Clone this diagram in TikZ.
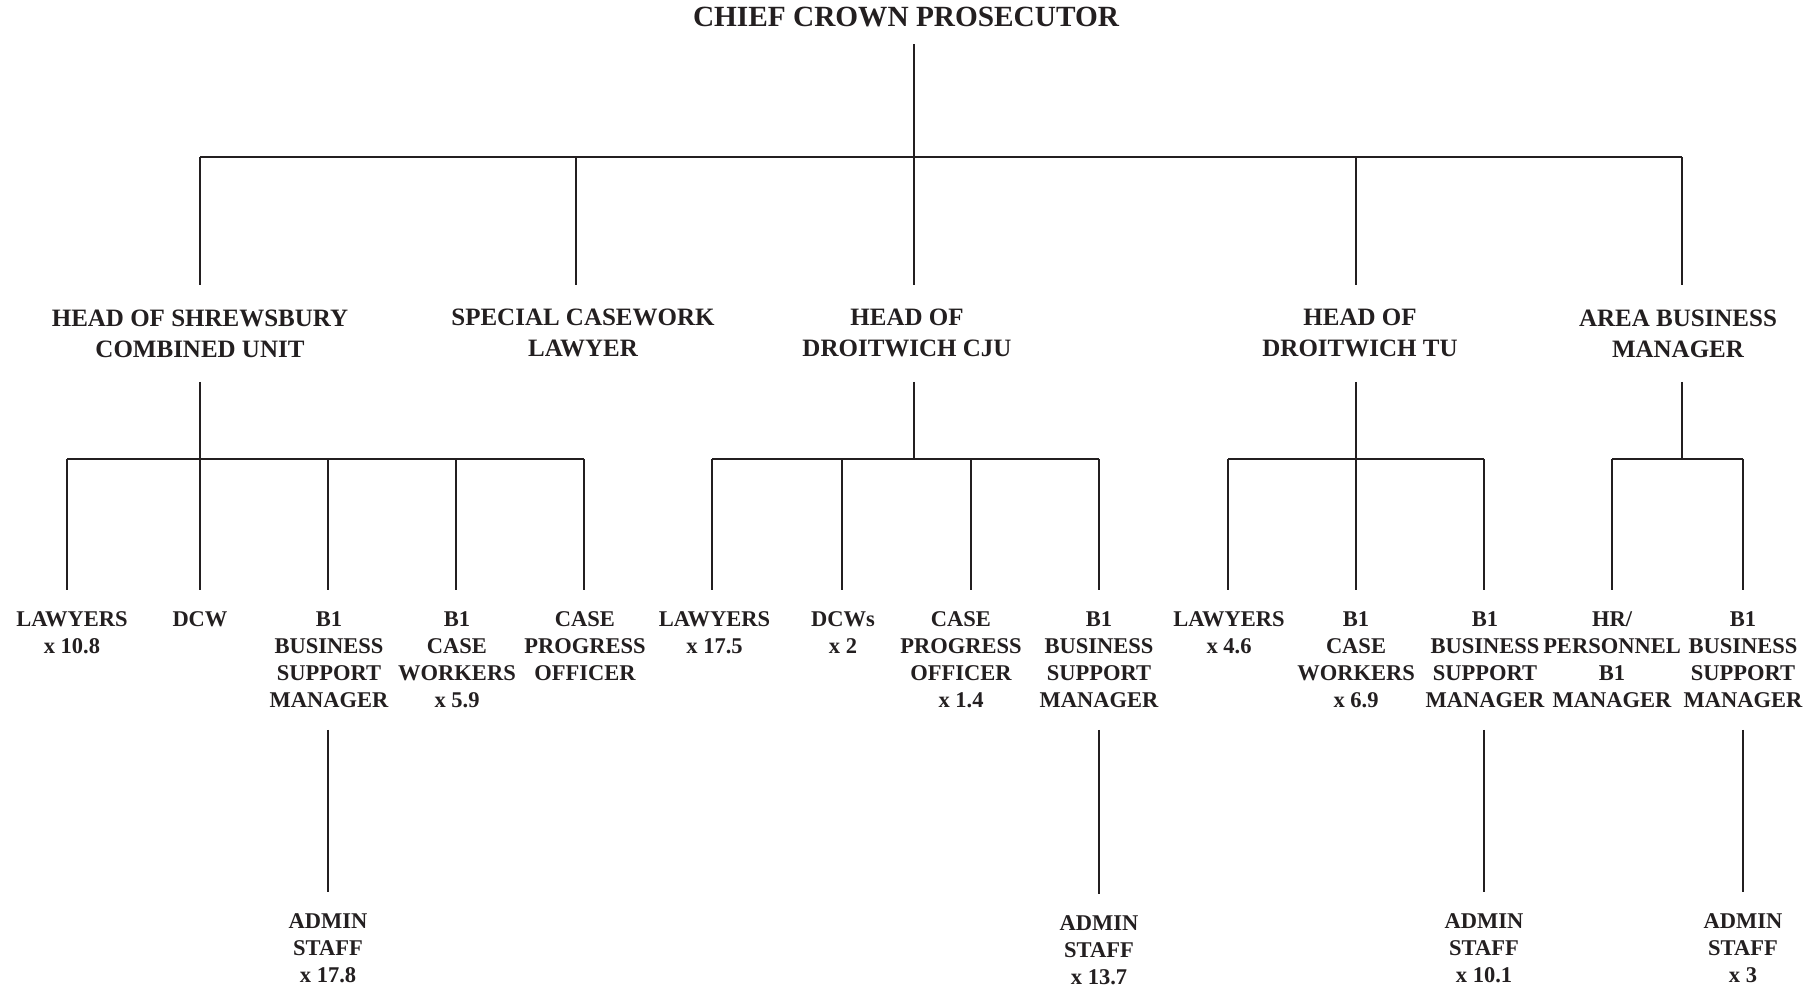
\documentclass[tikz,border=0pt]{standalone}
\usepackage{fontspec}
\setmainfont{Liberation Serif}
\definecolor{ink}{HTML}{231F20}
\begin{document}
\begin{tikzpicture}[x=0.5pt,y=-0.5pt,
  every node/.style={text=ink},
  conn/.style={draw=ink, line width=1pt},
  bar/.style={draw=ink, line width=1.15pt},
  ttop/.style={font=\fontsize{14.65pt}{17pt}\selectfont\bfseries, minimum height=27pt, inner sep=0pt},
  tmid/.style={font=\fontsize{12.5pt}{15.5pt}\selectfont\bfseries, align=center, anchor=north, minimum height=48pt, inner xsep=0pt, inner ysep=0pt},
  tlow/.style={font=\fontsize{11.25pt}{13.5pt}\selectfont\bfseries, align=center, anchor=north, inner xsep=0pt, inner ysep=10.75pt},
]
\useasboundingbox (0,0) rectangle (1816,988);

% level 0
\node[ttop] (ccp) at (906,17) {CHIEF CROWN PROSECUTOR};

% level 1 junctions
\coordinate (r0) at (200,157);
\coordinate (r1) at (575.6,157);
\coordinate (r2) at (914,157);
\coordinate (r3) at (1356,157);
\coordinate (r4) at (1682,157);
\draw[conn] (ccp.south -| r2) -- (r2);
\draw[bar] (r0) -- (r4);

% level 1 nodes
\node[tmid] (h1) at (200,285) {HEAD OF SHREWSBURY\\COMBINED UNIT};
\node[tmid] (sp) at (583,285) {SPECIAL CASEWORK\\LAWYER};
\node[tmid] (h2) at (907,285) {HEAD OF\\DROITWICH CJU};
\node[tmid] (h3) at (1360,285) {HEAD OF\\DROITWICH TU};
\node[tmid] (abm) at (1678,285) {AREA BUSINESS\\MANAGER};

\draw[conn] (r0) -- (r0 |- h1.north);
\draw[conn] (r1) -- (r1 |- sp.north);
\draw[conn] (r2) -- (r2 |- h2.north);
\draw[conn] (r3) -- (r3 |- h3.north);
\draw[conn] (r4) -- (r4 |- abm.north);

% level 2 junctions
\coordinate (g1a) at (67,459);
\coordinate (g1b) at (200,459);
\coordinate (g1c) at (328,459);
\coordinate (g1d) at (456,459);
\coordinate (g1e) at (584,459);
\coordinate (g2a) at (712,459);
\coordinate (g2b) at (842,459);
\coordinate (g2m) at (914,459);
\coordinate (g2c) at (971,459);
\coordinate (g2d) at (1099,459);
\coordinate (g3a) at (1228,459);
\coordinate (g3b) at (1356,459);
\coordinate (g3c) at (1484,459);
\coordinate (g4a) at (1612,459);
\coordinate (g4m) at (1682,459);
\coordinate (g4b) at (1743,459);

\draw[conn] (h1.south -| g1b) -- (g1b);
\draw[conn] (h2.south -| g2m) -- (g2m);
\draw[conn] (h3.south -| g3b) -- (g3b);
\draw[conn] (abm.south -| g4m) -- (g4m);

\draw[bar] (g1a) -- (g1e);
\draw[bar] (g2a) -- (g2d);
\draw[bar] (g3a) -- (g3c);
\draw[bar] (g4a) -- (g4b);

% level 2 nodes
\node[tlow] (a1) at (72,590) {LAWYERS\\x 10.8};
\node[tlow] (a2) at (200,590) {DCW};
\node[tlow] (a3) at (329,590) {B1\\BUSINESS\\SUPPORT\\MANAGER};
\node[tlow] (a4) at (457,590) {B1\\CASE\\WORKERS\\x 5.9};
\node[tlow] (a5) at (585,590) {CASE\\PROGRESS\\OFFICER};
\node[tlow] (b1) at (714.6,590) {LAWYERS\\x 17.5};
\node[tlow] (b2) at (843,590) {DCWs\\x 2};
\node[tlow] (b3) at (961,590) {CASE\\PROGRESS\\OFFICER\\x 1.4};
\node[tlow] (b4) at (1099,590) {B1\\BUSINESS\\SUPPORT\\MANAGER};
\node[tlow] (c1) at (1229,590) {LAWYERS\\x 4.6};
\node[tlow] (c2) at (1356,590) {B1\\CASE\\WORKERS\\x 6.9};
\node[tlow] (c3) at (1485,590) {B1\\BUSINESS\\SUPPORT\\MANAGER};
\node[tlow] (d1) at (1612,590) {HR/\\PERSONNEL\\B1\\MANAGER};
\node[tlow] (d2) at (1743,590) {B1\\BUSINESS\\SUPPORT\\MANAGER};

\draw[conn] (g1a) -- (g1a |- a1.north);
\draw[conn] (g1b) -- (g1b |- a2.north);
\draw[conn] (g1c) -- (g1c |- a3.north);
\draw[conn] (g1d) -- (g1d |- a4.north);
\draw[conn] (g1e) -- (g1e |- a5.north);
\draw[conn] (g2a) -- (g2a |- b1.north);
\draw[conn] (g2b) -- (g2b |- b2.north);
\draw[conn] (g2c) -- (g2c |- b3.north);
\draw[conn] (g2d) -- (g2d |- b4.north);
\draw[conn] (g3a) -- (g3a |- c1.north);
\draw[conn] (g3b) -- (g3b |- c2.north);
\draw[conn] (g3c) -- (g3c |- c3.north);
\draw[conn] (g4a) -- (g4a |- d1.north);
\draw[conn] (g4b) -- (g4b |- d2.north);

% level 3 nodes
\node[tlow] (e1) at (328,892) {ADMIN\\STAFF\\x 17.8};
\node[tlow] (e2) at (1099,894) {ADMIN\\STAFF\\x 13.7};
\node[tlow] (e3) at (1484,892) {ADMIN\\STAFF\\x 10.1};
\node[tlow] (e4) at (1743,892) {ADMIN\\STAFF\\x 3};

\draw[conn] (a3.south -| e1.north) -- (e1.north);
\draw[conn] (b4.south -| e2.north) -- (e2.north);
\draw[conn] (c3.south -| e3.north) -- (e3.north);
\draw[conn] (d2.south -| e4.north) -- (e4.north);
\end{tikzpicture}
\end{document}
